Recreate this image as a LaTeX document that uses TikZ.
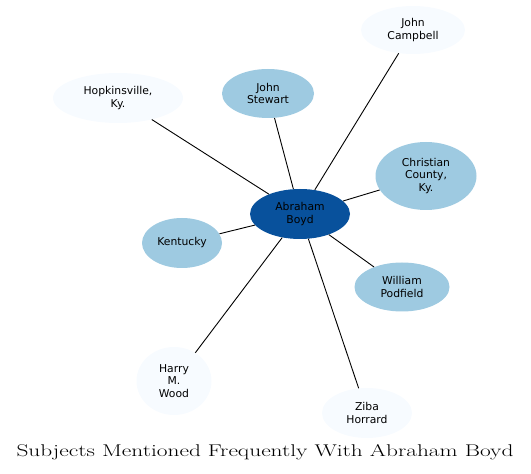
\documentclass[tikz,border=0pt]{standalone}
\usepackage{fontspec}
\usetikzlibrary{shapes.geometric}
\newfontfamily\nodefont{DejaVu Sans}
\definecolor{dark}{HTML}{08519C}
\definecolor{mid}{HTML}{9ECAE1}
\definecolor{pale}{HTML}{F7FBFF}
\tikzset{
  ent/.style={ellipse, inner sep=0pt, align=center, text=black,
    font=\nodefont\fontsize{10.8}{12.5}\selectfont},
  darkent/.style={ent, fill=dark},
  minent/.style={ent, fill=mid},
  paleent/.style={ent, fill=pale},
  link/.style={draw=black, line width=0.9pt},
}
\begin{document}
\begin{tikzpicture}[x=1pt,y=1pt]
\useasboundingbox (0,0) rectangle (531,474);
\node[darkent, minimum width=100pt, minimum height=50pt] (ab) at (300,260) {Abraham\\Boyd};
\node[minent, minimum width=92pt, minimum height=49pt] (js) at (268,380.5) {John\\Stewart};
\node[paleent, minimum width=104pt, minimum height=48pt] (jc) at (413,444) {John\\Campbell};
\node[paleent, minimum width=130pt, minimum height=50pt] (hk) at (118,376) {Hopkinsville,\\Ky.};
\node[minent, minimum width=101pt, minimum height=68pt] (cc) at (426,298) {Christian\\County,\\Ky.};
\node[minent, minimum width=95pt, minimum height=49pt] (wp) at (402,187) {William\\Podfield};
\node[minent, minimum width=80pt, minimum height=50pt] (ky) at (182,231) {Kentucky};
\node[paleent, minimum width=75pt, minimum height=68pt] (hw) at (174,93) {Harry\\M.\\Wood};
\node[paleent, minimum width=90pt, minimum height=50pt] (zh) at (367,61) {Ziba\\Horrard};
\foreach \n in {js,jc,hk,cc,wp,ky,hw,zh} {\draw[link] (ab) -- (\n);}
\node[inner sep=0pt, font=\fontsize{17}{19}\selectfont] (title) at (265,22)
  {\scalebox{1.374}[1]{Subjects Mentioned Frequently With Abraham Boyd}};
\end{tikzpicture}
\end{document}
